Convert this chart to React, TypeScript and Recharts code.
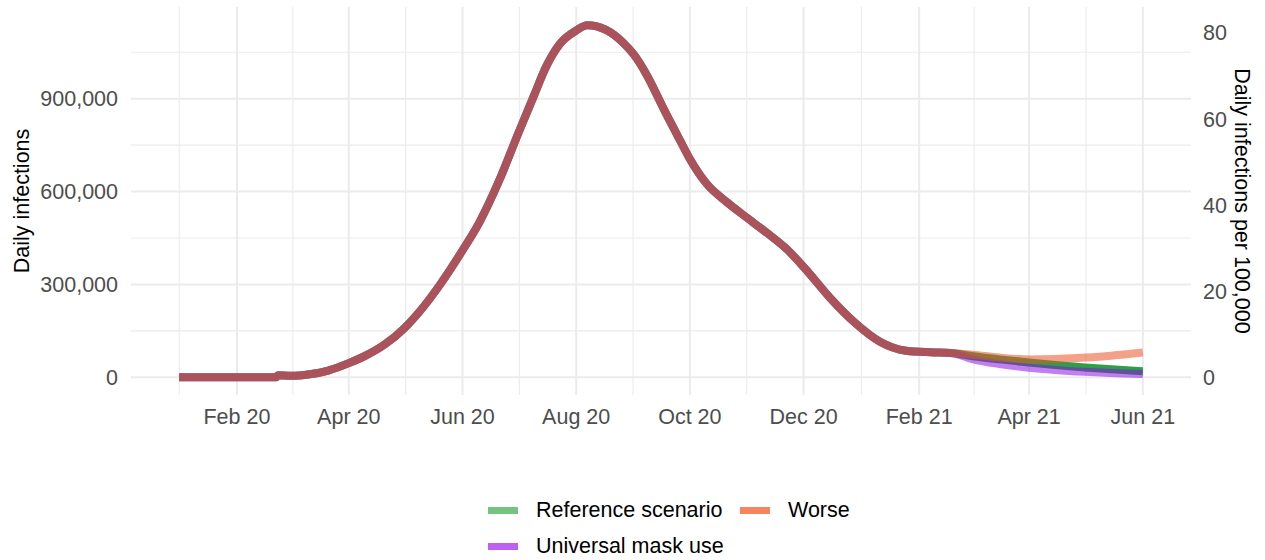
import { CartesianGrid, Line, LineChart, XAxis, YAxis } from "recharts";

// days counted from 1 Jan 2020
const days = [
  0, 10, 20, 30, 40, 52, 53, 60, 70, 80, 91, 100, 110, 121, 130, 140, 152, 161, 172, 182, 190, 197, 204, 213, 219,
  229, 238, 244, 251, 260, 269, 274, 283, 294, 304, 315, 326, 336, 349, 363, 376, 390, 403, 414, 426, 440, 456, 470,
  486, 500, 517,
];

// the three scenarios share the same curve until mid Feb 2021
const sharedCurve = [
  0, 0, 0, 0, 0, 0, 7000, 5000, 10000, 22000, 46000, 70000, 105000, 160000, 220000, 300000, 410000, 500000, 640000,
  789000, 905000, 1005000, 1075000, 1120000, 1137000, 1122000, 1082000, 1042000, 975000, 866000, 762000, 705000,
  625000, 565000, 518000, 468000, 414000, 350000, 258000, 174000, 115000, 86000, 81000, 79000,
];

const referenceTail = [68000, 58000, 48000, 40000, 32000, 26000, 20000];
const universalTail = [58000, 43000, 31000, 24000, 18000, 14000, 11000];
const worseTail = [73000, 64000, 58000, 59000, 64000, 70000, 80000];

const referenceScenario = [...sharedCurve, ...referenceTail];
const universalMaskUse = [...sharedCurve, ...universalTail];
const worse = [...sharedCurve, ...worseTail];

const monthTicks = [31, 91, 152, 213, 274, 335, 397, 456, 517];
const monthLabels = ["Feb 20", "Apr 20", "Jun 20", "Aug 20", "Oct 20", "Dec 20", "Feb 21", "Apr 21", "Jun 21"];
const minorMonthLines = [0, 61, 121.5, 182.5, 243.5, 304.5, 366, 426.5, 486.5];

const infectionTicks = [0, 300000, 600000, 900000];
const minorInfectionLines = [150000, 450000, 750000, 1050000];
const per100kTicks = [0, 20, 40, 60, 80];
const per100kDivisor = 13910; // population / 100,000

const xDomain: [number, number] = [-25.85, 542.85];
const yDomain: [number, number] = [-57000, 1196000];

const series = [
  { key: "reference", name: "Reference scenario", color: "#2E9E48", opacity: 1, swatch: "#74C47F" },
  { key: "universal", name: "Universal mask use", color: "#8C0DE2", opacity: 0.53, swatch: "#BE60F0" },
  { key: "worse", name: "Worse", color: "#EB5428", opacity: 0.55, swatch: "#F7845F" },
];

const data = days.map((day, i) => ({
  day,
  reference: referenceScenario[i],
  universal: universalMaskUse[i],
  worse: worse[i],
}));

const FONT = '"Liberation Sans", Arial, Helvetica, sans-serif';
const FS = 21.5;
const num = new Intl.NumberFormat("en-US");

function AxisTitle({ viewBox, value, side }: any) {
  const { x, y, width, height } = viewBox;
  const cy = y + height / 2;
  const cx = side === "left" ? x + 8 : x + width - 6;
  return (
    <text
      x={cx}
      y={cy}
      transform={`rotate(${side === "left" ? -90 : 90}, ${cx}, ${cy})`}
      textAnchor="middle"
      fontSize={FS}
      fill="#000"
      fontFamily={FONT}
    >
      {value}
    </text>
  );
}

function LegendBlock() {
  const order = [series[0], series[2], series[1]];
  return (
    <div
      style={{
        position: "absolute",
        left: 488,
        top: 492,
        display: "grid",
        gridTemplateColumns: "252px auto",
        gridAutoRows: "36px",
        fontFamily: FONT,
        fontSize: FS,
        color: "#000",
      }}
    >
      {order.map((s) => (
        <div key={s.key} style={{ display: "flex", alignItems: "center" }}>
          <span style={{ width: 30, height: 7, background: s.swatch, marginRight: 18 }} />
          <span>{s.name}</span>
        </div>
      ))}
    </div>
  );
}

export default function App() {
  const tickStyle = { fontSize: FS, fill: "#4D4D4D", fontFamily: FONT };
  return (
    <div style={{ position: "absolute", left: 0, top: 0, width: 1265, height: 560, background: "#fff", fontFamily: FONT }}>
      <LineChart width={1265} height={560} data={data} margin={{ top: 7, right: 24, bottom: 125, left: 21 }}>
        <CartesianGrid
          stroke="#EBEBEB"
          strokeWidth={1.1}
          horizontalValues={minorInfectionLines}
          verticalValues={minorMonthLines}
        />
        <CartesianGrid stroke="#EBEBEB" strokeWidth={2} horizontalValues={infectionTicks} verticalValues={monthTicks} />
        <XAxis
          dataKey="day"
          type="number"
          domain={xDomain}
          ticks={monthTicks}
          tickFormatter={(v: number) => monthLabels[monthTicks.indexOf(v)] ?? ""}
          axisLine={false}
          tickLine={false}
          tickSize={0}
          tickMargin={14}
          height={40}
          tick={tickStyle}
          interval={0}
          allowDataOverflow
        />
        <YAxis
          type="number"
          domain={yDomain}
          ticks={infectionTicks}
          tickFormatter={(v: number) => num.format(v)}
          axisLine={false}
          tickLine={false}
          tickSize={0}
          tickMargin={13}
          width={110}
          tick={tickStyle}
          interval={0}
          allowDataOverflow
          label={<AxisTitle value="Daily infections" side="left" />}
        />
        <YAxis
          yAxisId="right"
          orientation="right"
          type="number"
          domain={[yDomain[0] / per100kDivisor, yDomain[1] / per100kDivisor]}
          ticks={per100kTicks}
          axisLine={false}
          tickLine={false}
          tickSize={0}
          tickMargin={12}
          width={50}
          tick={{ ...tickStyle, textAnchor: "start" }}
          interval={0}
          allowDataOverflow
          label={<AxisTitle value="Daily infections per 100,000" side="right" />}
        />
        {series.map((s) => (
          <Line
            key={s.key}
            dataKey={s.key}
            name={s.name}
            type="monotone"
            stroke={s.color}
            strokeOpacity={s.opacity}
            strokeWidth={8}
            strokeLinecap="butt"
            strokeLinejoin="round"
            dot={false}
            activeDot={false}
            isAnimationActive={false}
          />
        ))}
      </LineChart>
      <LegendBlock />
    </div>
  );
}
